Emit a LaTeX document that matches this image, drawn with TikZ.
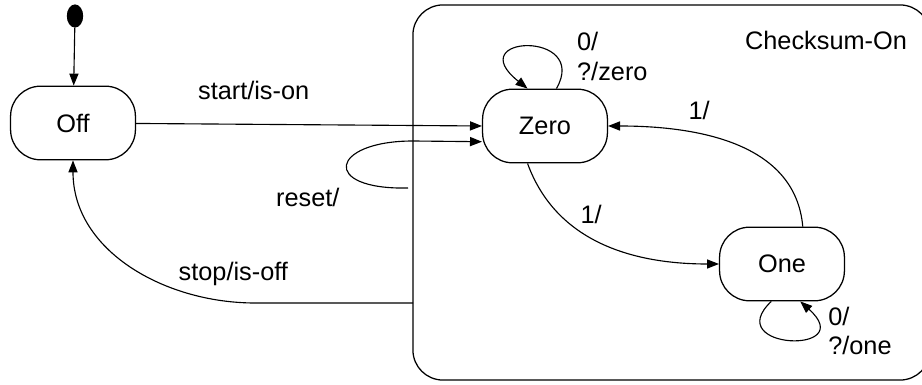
\documentclass[tikz,border=0pt]{standalone}
\usepackage{fontspec}
\setmainfont{Liberation Sans}
\usetikzlibrary{arrows.meta,shapes.geometric}

\begin{document}
\begin{tikzpicture}[x=0.025cm,y=-0.025cm,
    >={Triangle[length=8.5pt,width=6.5pt]},
    every node/.style={font=\fontsize{18}{21}\selectfont},
    state/.style={draw,rounded corners=0.75cm,minimum width=3.12cm,minimum height=1.84cm,line width=0.9pt},
    lbl/.style={inner sep=0pt},
    line width=0.8pt]
  \useasboundingbox (0,0) rectangle (922,385);
  % superstate
  \node[draw,rounded corners=0.75cm,minimum width=12.925cm,minimum height=9.375cm,line width=0.9pt] (on) at (671.5,192.5) {};
  \node[lbl] (title) at (826,40) {Checksum-On};
  % states
  \node[draw,fill,ellipse,minimum width=0.38cm,minimum height=0.55cm,inner sep=0pt] (init) at (75,16) {};
  \node[state] (off) at (73,123) {Off};
  \node[state] (zero) at (545,126) {Zero};
  \node[state] (one) at (782,264) {One};
  \coordinate (rs) at (408,188);
  \coordinate (stp) at (413,303);
  % transitions
  \draw[->] (init) -- (off);
  \draw[->] (off) -- node[lbl,pos=0.34,above=0.6cm] {start/is-on} (zero.west);
  \draw[->] (rs) node[lbl,anchor=north east,xshift=-1.7cm] {reset/}
    .. controls (320,190) and (330,141) .. (413,141) -- (zero.194);
  \draw[->] (stp) -- (255,303) to[out=180,in=-90]
    node[lbl,pos=0.08,above=0.4cm] {stop/is-off} (off.south);
  \draw[->] (zero.245) to[out=-70,in=180]
    node[lbl,pos=0.36,above right=3pt] {1/} (one.west);
  \draw[->] (one.61) to[out=95,in=0]
    node[lbl,pos=0.65,above=0.35cm] {1/} (zero.east);
  \draw[->] (zero.73) .. controls (590,30) and (460,35) ..
    node[lbl,pos=0.25,right=0.5cm,align=left] {0/\\?/zero} (zero.115);
  \draw[->] (one.254) .. controls (720,350) and (860,355) ..
    node[lbl,pos=0.75,right=0.35cm,align=left] {0/\\?/one} (one.296);
\end{tikzpicture}
\end{document}
